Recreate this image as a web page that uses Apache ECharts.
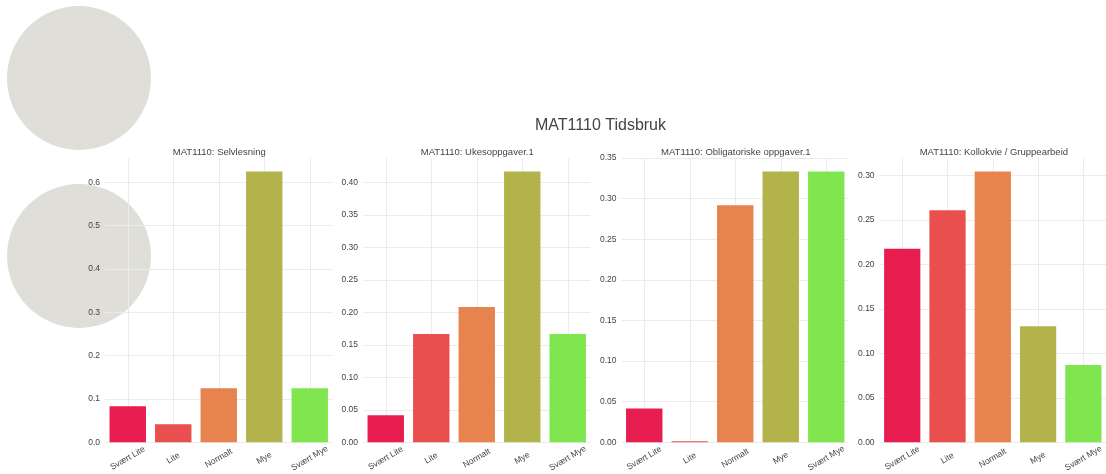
<!DOCTYPE html>
<html>
<head>
<meta charset="utf-8">
<script src="https://cdn.jsdelivr.net/npm/echarts@6/dist/echarts.min.js"></script>
<style>
html,body{margin:0;padding:0;background:#fff;}
#chart{width:1106px;height:474px;}
</style>
</head>
<body>
<div id="chart"></div>
<script>
const categories = ['Svært Lite', 'Lite', 'Normalt', 'Mye', 'Svært Mye'];
const panelTitles = ['MAT1110: Selvlesning', 'MAT1110: Ukesoppgaver.1', 'MAT1110: Obligatoriske oppgaver.1', 'MAT1110: Kollokvie / Gruppearbeid'];
const selvlesning = [0.0833, 0.0417, 0.125, 0.625, 0.125];
const ukesoppgaver = [0.0417, 0.1667, 0.2083, 0.4167, 0.1667];
const obligatoriske = [0.0417, 0, 0.2917, 0.33333, 0.33333];
const kollokvie = [0.2174, 0.2609, 0.3043, 0.1304, 0.0870];
const tickIntervals = [0.1, 0.05, 0.05, 0.05];
const tickDecimals = [1, 2, 2, 2];
const mainTitle = 'MAT1110 Tidsbruk';

const barColors = ['#e71c4f', '#e84f4e', '#e6834e', '#b3b34c', '#80e64f'];
const seriesData = [selvlesning, ukesoppgaver, obligatoriske, kollokvie];
const gridLefts = [105, 363, 621.5, 879.6];
const plotWidth = 227.5;
const font = 'Liberation Sans, Arial, sans-serif';

const grids = [], xAxes = [], yAxes = [], series = [], titles = [];
titles.push({text: mainTitle, left: 595.5, top: 113, textAlign: 'center',
  textStyle: {fontFamily: font, fontSize: 16, fontWeight: 'normal', color: '#444'}});
seriesData.forEach((vals, i) => {
  grids.push({left: gridLefts[i], width: plotWidth, top: 158, bottom: 31.3, containLabel: false});
  titles.push({text: panelTitles[i], left: gridLefts[i] + plotWidth / 2 - 4.5, top: 142, textAlign: 'center',
    textStyle: {fontFamily: font, fontSize: 9.5, fontWeight: 'normal', color: '#444'}});
  xAxes.push({type: 'category', gridIndex: i, data: categories,
    axisLine: {show: false}, axisTick: {show: false},
    splitLine: {show: true, alignWithLabel: true, interval: 0, lineStyle: {color: '#ebebeb', width: 1}},
    axisLabel: {interval: 0, rotate: 30, align: 'center', verticalAlign: 'middle', margin: 16,
      fontFamily: font, fontSize: 8.5, color: '#444'}});
  const mx = Math.round(Math.max(...vals) * 1.05 * 1e4) / 1e4;
  const ratio = mx / tickIntervals[i];
  const nice = Math.abs(ratio - Math.round(ratio)) < 1e-6;
  yAxes.push({type: 'value', gridIndex: i, min: 0, max: mx, interval: tickIntervals[i],
    axisLine: {show: false}, axisTick: {show: false},
    splitLine: {show: true, showMaxLine: nice, lineStyle: {color: '#ebebeb', width: 1}},
    axisLabel: {showMaxLabel: nice, margin: 5, fontFamily: font, fontSize: 8.5, color: '#444',
      formatter: v => v.toFixed(tickDecimals[i])}});
  series.push({type: 'bar', xAxisIndex: i, yAxisIndex: i, barWidth: '80%', barMinHeight: 1,
    data: vals.map((v, k) => ({value: v, itemStyle: {color: barColors[k]}}))});
});

const chart = echarts.init(document.getElementById('chart'), null, {renderer: 'canvas'});
chart.setOption({
  animation: false,
  backgroundColor: '#ffffff',
  title: titles,
  grid: grids,
  xAxis: xAxes,
  yAxis: yAxes,
  series: series,
  graphic: [
    {type: 'circle', shape: {cx: 79, cy: 78, r: 72}, style: {fill: '#dfded9'}, z: -10, silent: true},
    {type: 'circle', shape: {cx: 79, cy: 256, r: 72}, style: {fill: '#dfded9'}, z: -10, silent: true}
  ]
});
</script>
</body>
</html>
